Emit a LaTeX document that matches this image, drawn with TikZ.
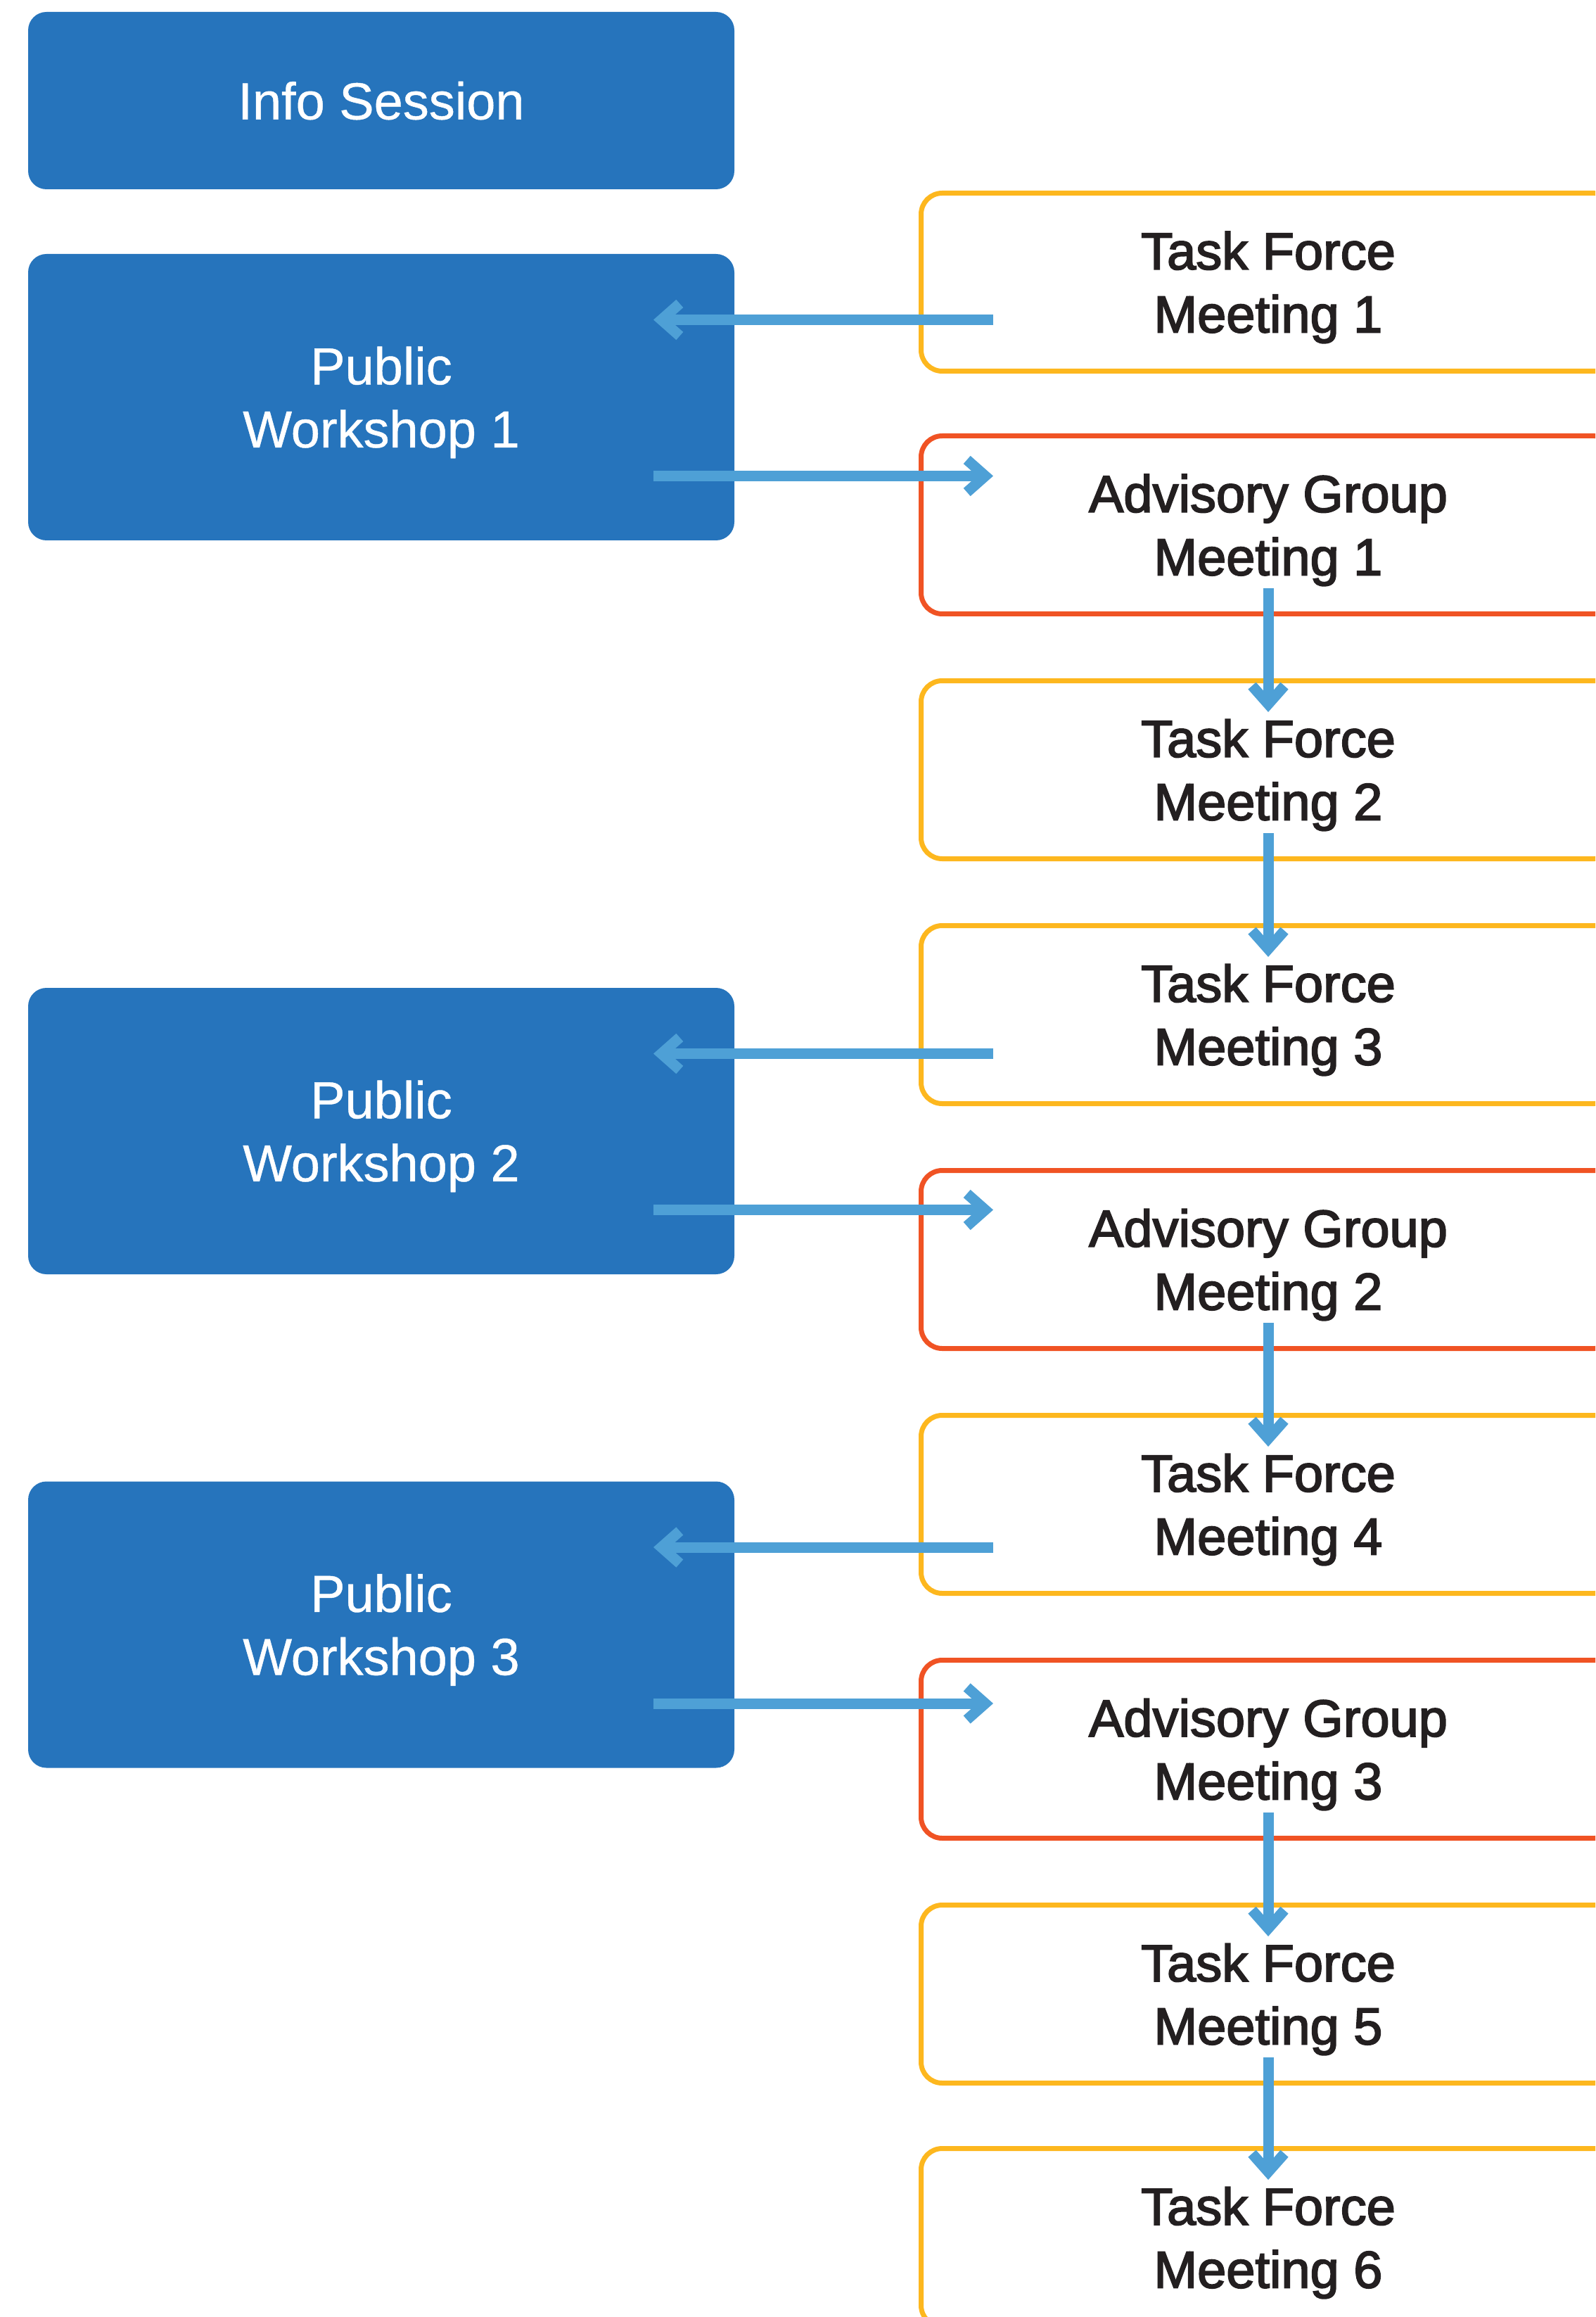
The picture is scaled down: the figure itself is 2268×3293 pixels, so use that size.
\documentclass[tikz,border=0pt]{standalone}
\usepackage{fontspec}
\setmainfont{Liberation Sans}
\newfontfamily\darkfont[FakeBold=2.5]{Liberation Sans}
\newfontfamily\lightfont[FakeBold=0.6]{Liberation Sans}
\usetikzlibrary{arrows.meta}
\definecolor{boxblue}{RGB}{38,116,188}
\definecolor{arrowblue}{RGB}{78,160,214}
\definecolor{tfyellow}{RGB}{253,183,30}
\definecolor{agorange}{RGB}{240,83,36}
\definecolor{textdark}{RGB}{35,31,32}
\begin{document}
\begin{tikzpicture}[x=0.25pt,y=-0.25pt,
  bluebox/.style={fill=boxblue, rounded corners=6.5pt, minimum width=251pt,
    inner sep=0pt, outer sep=0pt, text=white, align=center,
    text height=35.7pt, text depth=0pt,
    font=\lightfont\fontsize{18.5}{22.4}\selectfont},
  meetbox/.style={draw, line width=1.75pt, fill=white, rounded corners=7.5pt,
    minimum width=246.75pt, minimum height=63.25pt, inner sep=0pt, outer sep=0pt,
    text=textdark, align=center, text height=35.7pt, text depth=0pt,
    font=\darkfont\fontsize{18.5}{22.4}\selectfont},
  tfbox/.style={meetbox, draw=tfyellow},
  agbox/.style={meetbox, draw=agorange},
  flow/.style={draw=arrowblue, line width=3.75pt,
    -{Straight Barb[sharp,length=6.5pt,width=11.5pt]}}
]
\useasboundingbox (0,0) rectangle (2268,3293);
\clip (0,0) rectangle (2268,3293);

% left column
\node[bluebox, minimum height=63pt, text height=13.3pt] (info) at (542,143) {Info Session};
\node[bluebox, minimum height=101.75pt] (pw1) at (542,564.5) {Public\\Workshop 1};
\node[bluebox, minimum height=101.75pt] (pw2) at (542,1607.5) {Public\\Workshop 2};
\node[bluebox, minimum height=101.75pt] (pw3) at (542,2309) {Public\\Workshop 3};

% right column
\node[tfbox] (tf1) at (1803,401) {Task Force\\Meeting 1};
\node[agbox] (ag1) at (1803,746) {Advisory Group\\Meeting 1};
\node[tfbox] (tf2) at (1803,1094) {Task Force\\Meeting 2};
\node[tfbox] (tf3) at (1803,1442) {Task Force\\Meeting 3};
\node[agbox] (ag2) at (1803,1790) {Advisory Group\\Meeting 2};
\node[tfbox] (tf4) at (1803,2138) {Task Force\\Meeting 4};
\node[agbox] (ag3) at (1803,2486) {Advisory Group\\Meeting 3};
\node[tfbox] (tf5) at (1803,2834) {Task Force\\Meeting 5};
\node[tfbox] (tf6) at (1803,3180) {Task Force\\Meeting 6};

% horizontal connectors
\foreach \p/\t/\a in {pw1/tf1/ag1, pw2/tf3/ag2, pw3/tf4/ag3}{
  \coordinate (\t-out) at ([shift={(368,-110)}]\p.east);
  \coordinate (\p-in) at ([shift={(-115,-110)}]\p.east);
  \coordinate (\p-out) at ([shift={(-115,112)}]\p.east);
  \coordinate (\a-in) at ([shift={(368,112)}]\p.east);
  \draw[flow] (\t-out) -- (\p-in);
  \draw[flow] (\p-out) -- (\a-in);
}

% vertical connectors
\foreach \u/\v in {ag1/tf2, tf2/tf3, ag2/tf4, ag3/tf5, tf5/tf6}{
  \draw[flow] ([shift={(0,-36.5)}]\u.south) -- ([shift={(0,44.5)}]\v.north);
}
\end{tikzpicture}
\end{document}
